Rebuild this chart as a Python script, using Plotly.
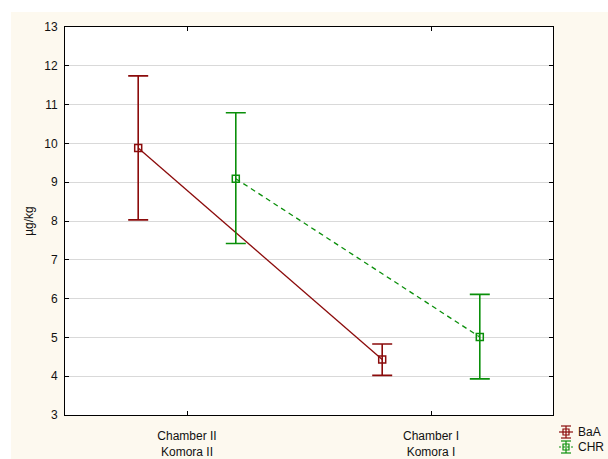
import plotly.graph_objects as go

categories = ["Chamber II<br>Komora II", "Chamber I<br>Komora I"]
cat_index = [0, 1]

baa_mean = [9.88, 4.43]
baa_upper = [11.74, 4.83]
baa_lower = [8.03, 4.02]

chr_mean = [9.09, 5.01]
chr_upper = [10.79, 6.11]
chr_lower = [7.42, 3.93]

series_names = ["BaA", "CHR"]
y_ticks = list(range(3, 14))

offset = 0.2
red = "#8b0b0b"
green = "#0a8f0a"

fig = go.Figure()

def add_series(name, mean, upper, lower, xoff, color, dash):
    xs = [c + xoff for c in cat_index]
    fig.add_trace(go.Scatter(
        x=xs, y=mean, name=name, mode="lines+markers", showlegend=False,
        line=dict(color=color, width=1.3, dash=dash),
        marker=dict(symbol="square-open", size=7, color=color, line=dict(width=1.5, color=color)),
        error_y=dict(type="data", symmetric=False,
                     array=[u - m for u, m in zip(upper, mean)],
                     arrayminus=[m - l for m, l in zip(mean, lower)],
                     color=color, thickness=1.6, width=10),
    ))

add_series(series_names[0], baa_mean, baa_upper, baa_lower, -offset, red, "solid")
add_series(series_names[1], chr_mean, chr_upper, chr_lower, offset, green, "5px,4px")

W, H = 608, 459
l, r, t, b = 65, 55, 27, 44
pw, ph = W - l - r, H - t - b

def px_x(px):
    return (px - l) / pw

def px_y(py):
    return (H - b - py) / ph

cream = "#fdf9ef"
shapes = [
    dict(type="rect", xref="paper", yref="paper", x0=px_x(-5), x1=px_x(11), y0=px_y(H + 5), y1=px_y(-5),
         fillcolor="white", line=dict(width=0), layer="below"),
    dict(type="rect", xref="paper", yref="paper", x0=px_x(-5), x1=px_x(W + 5), y0=px_y(12), y1=px_y(-5),
         fillcolor="white", line=dict(width=0), layer="below"),
]
annotations = []
# custom legend (error-bar icon + square marker + label)
for i, (name, color) in enumerate(zip(series_names, [red, green])):
    cy = 432 + 15 * i
    cx = 566
    shapes += [
        dict(type="line", xref="paper", yref="paper", x0=px_x(cx), x1=px_x(cx), y0=px_y(cy - 6), y1=px_y(cy + 6),
             line=dict(color=color, width=1.2)),
        dict(type="line", xref="paper", yref="paper", x0=px_x(cx - 5), x1=px_x(cx + 5), y0=px_y(cy - 6), y1=px_y(cy - 6),
             line=dict(color=color, width=1.2)),
        dict(type="line", xref="paper", yref="paper", x0=px_x(cx - 5), x1=px_x(cx + 5), y0=px_y(cy + 6), y1=px_y(cy + 6),
             line=dict(color=color, width=1.2)),
        dict(type="rect", xref="paper", yref="paper", x0=px_x(cx - 3), x1=px_x(cx + 3), y0=px_y(cy + 3), y1=px_y(cy - 3),
             line=dict(color=color, width=1.2)),
        dict(type="line", xref="paper", yref="paper", x0=px_x(cx - 7), x1=px_x(cx + 7), y0=px_y(cy), y1=px_y(cy),
             line=dict(color=color, width=1.2, dash="solid" if i == 0 else "2px,2px")),
    ]
    annotations.append(dict(text=name, xref="paper", yref="paper", x=px_x(576), y=px_y(cy),
                            xanchor="left", yanchor="middle", showarrow=False,
                            font=dict(size=12, color="#111")))

fig.update_layout(
    width=W, height=H,
    margin=dict(l=l, r=r, t=t, b=b, pad=0, autoexpand=False),
    paper_bgcolor=cream, plot_bgcolor="white",
    font=dict(family="Liberation Sans, Arial, sans-serif", size=12, color="#111"),
    showlegend=False,
    shapes=shapes,
    annotations=annotations,
)

fig.update_xaxes(
    range=[-0.5, 1.5], tickvals=cat_index, ticktext=categories, automargin=False,
    showgrid=False, zeroline=False, showline=True, linecolor="black", linewidth=1,
    mirror="ticks", ticks="inside", ticklen=4, tickcolor="black",
    ticklabelstandoff=10,
)
fig.update_yaxes(
    range=[3, 13], tickvals=y_ticks, automargin=False,
    showgrid=True, gridcolor="#d9d9d9", gridwidth=1, zeroline=False,
    showline=True, linecolor="black", linewidth=1,
    mirror="ticks", ticks="inside", ticklen=4, tickcolor="black",
    ticklabelstandoff=4,
    title=dict(text="µg/kg", standoff=8, font=dict(size=12)),
)

fig.write_html("out.html", config={"displayModeBar": False},
               post_script="document.body.style.margin='0';document.body.style.overflow='hidden';")
